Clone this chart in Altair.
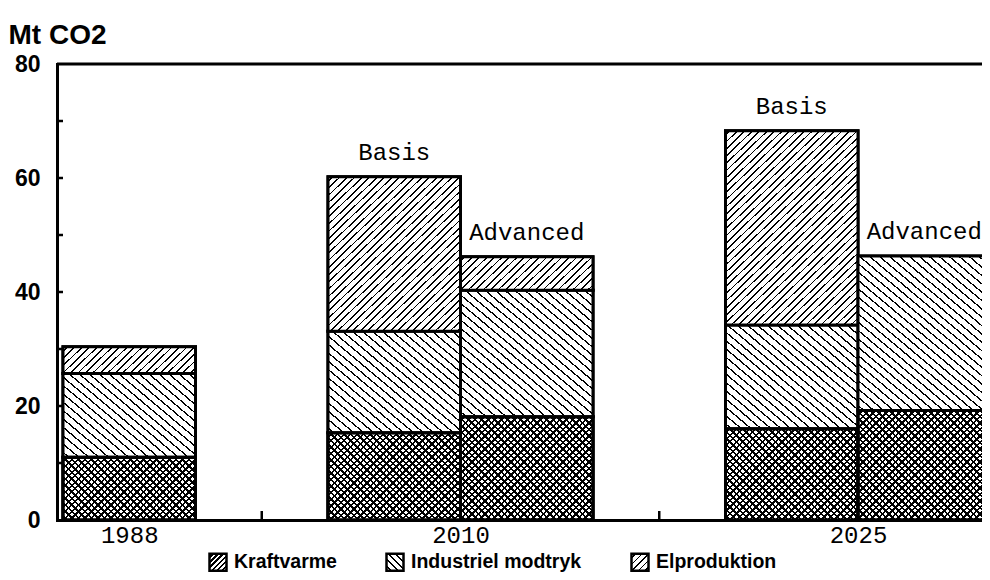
import math
import json
import altair as alt

# ---------------- data ----------------
series = ["Kraftvarme", "Industriel modtryk", "Elproduktion"]
bar_year = ["1988", "2010", "2010", "2025", "2025"]
bar_scenario = ["", "Basis", "Advanced", "Basis", "Advanced"]
kraftvarme = [11.0, 15.3, 18.1, 16.0, 19.2]
industriel = [14.7, 17.8, 22.2, 18.2, 27.1]
elproduktion = [4.7, 27.1, 5.9, 34.1, 0.0]
# order of the equal-width slots along the x axis (None = empty gap)
slot_layout = ["1988", None, "2010 Basis", "2010 Advanced", None,
               "2025 Basis", "2025 Advanced"]
y_labels = [0, 20, 40, 60, 80]
y_minor = [10, 20, 30, 40, 50, 60, 70]

# ---------------- layout ----------------
PLOT_W, PLOT_H = 925, 456
PAD = {"left": 49, "top": 56, "right": 0, "bottom": 52}
SLOT_PX = 132.5
FIRST_GAP = 6
X_LO = -FIRST_GAP / SLOT_PX
X_HI = X_LO + PLOT_W / SLOT_PX
Y_MAX = 80
PX_PER_Y = PLOT_H / Y_MAX


def hatch(W, H, theta, period, line, kind, bg="white", fg="black", phase=0.5):
    """Linear gradient with hard stops that draws diagonal stripes."""
    th = math.radians(theta)
    s, c = math.sin(th), math.cos(th)
    S = W * s + H * c
    k = S / ((W * s) ** 2 + (H * c) ** 2)
    gx, gy = k * W * s, k * H * c
    if kind == "/":
        x1, y1, x2, y2 = 0, 0, gx, gy
    else:
        x1, y1, x2, y2 = 0, 1, gx, 1 - gy
    stops = [{"offset": 0, "color": bg}]
    pos = phase * period
    while pos < S:
        a = round(pos / S, 5)
        b = round(min((pos + line) / S, 1), 5)
        stops += [{"offset": a, "color": bg}, {"offset": a, "color": fg},
                  {"offset": b, "color": fg}, {"offset": b, "color": bg}]
        pos += period
    stops.append({"offset": 1, "color": bg})
    return {"gradient": "linear", "x1": round(x1, 5), "y1": round(y1, 5),
            "x2": round(x2, 5), "y2": round(y2, 5), "stops": stops}


STYLE = {
    "Kraftvarme": dict(theta=45, period=4.6, line=1.7, kind="/"),
    "Industriel modtryk": dict(theta=40, period=6.4, line=1.3, kind="\\"),
    "Elproduktion": dict(theta=44, period=5.2, line=1.25, kind="/"),
}
CROSS = dict(theta=45, period=4.6, line=1.7, kind="\\")

records = []
values_by_series = [kraftvarme, industriel, elproduktion]
for i, year in enumerate(bar_year):
    key = year + (" " + bar_scenario[i] if bar_scenario[i] else "")
    slot = slot_layout.index(key)
    for j, name in enumerate(series):
        v = values_by_series[j][i]
        if v <= 0:
            continue
        H = v * PX_PER_Y
        g1 = hatch(SLOT_PX, H, **STYLE[name])
        g2 = hatch(SLOT_PX, H, bg="rgba(0,0,0,0)", **CROSS) if name == "Kraftvarme" else None
        records.append({"slot": slot, "series": name, "order": j, "value": v,
                        "year": year, "scenario": bar_scenario[i],
                        "g1": g1, "g2": g2})

data = alt.Data(values=records)

# legend swatch patterns (square symbols)
SW = 17
legend_grad = [
    hatch(SW, SW, theta=45, period=3.6, line=1.9, kind="/"),
    hatch(SW, SW, theta=45, period=5.0, line=1.4, kind="\\"),
    hatch(SW, SW, theta=45, period=4.6, line=1.3, kind="/"),
]
legend_range = [alt.ExprRef(expr=json.dumps(g)) for g in legend_grad]

# x axis label positions: centre of each year's group of slots
years = []
for y in bar_year:
    if y not in years:
        years.append(y)
centers = []
for y in years:
    idx = [k for k, s in enumerate(slot_layout) if s is not None and s.startswith(y)]
    centers.append(sum(k + 0.5 for k in idx) / len(idx))
label_expr = " : ".join(
    [f"abs(datum.value - {c}) < 0.01 ? '{y}'" for c, y in zip(centers, years)] + ["''"]
)
gap_ticks = [k + 0.5 for k, s in enumerate(slot_layout) if s is None]

x_scale = alt.Scale(domain=[X_LO, X_HI], nice=False, zero=False)
y_scale = alt.Scale(domain=[0, Y_MAX], nice=False, zero=True)

x_axis = alt.Axis(values=centers, labelExpr=label_expr, title=None, ticks=False,
                  tickSize=0, grid=False, labelFlush=False,
                  labelFont="Liberation Mono", labelFontSize=24, labelColor="black",
                  labelPadding=3, domainWidth=3, domainColor="black", domainCap="square")
y_axis = alt.Axis(values=y_labels, title="Mt CO2", titleAngle=0, titleX=-49, titleY=-21,
                  titleAlign="left", titleBaseline="alphabetic",
                  titleFont="Liberation Sans", titleFontSize=28, titleFontWeight="bold",
                  titleColor="black", labelFont="Liberation Sans", labelFontSize=23,
                  labelFontWeight="bold", labelColor="black", labelPadding=17,
                  ticks=False, tickSize=0, grid=False, domainWidth=3,
                  domainColor="black", domainCap="square")


def X(field):
    return alt.X(field, scale=x_scale, axis=x_axis)


def Y(field):
    return alt.Y(field, scale=y_scale, axis=y_axis)


stacked = (
    alt.Chart(data)
    .transform_stack(stack="value", groupby=["slot"],
                     sort=[alt.SortField(field="order", order="ascending")],
                     as_=["y0", "y1"])
    .transform_calculate(x_end="datum.slot + 1")
)

legend_layer = stacked.mark_bar(stroke="black", strokeWidth=3, clip=True).encode(
    x=X("slot:Q"),
    x2="x_end:Q",
    y=Y("y0:Q"),
    y2="y1:Q",
    fill=alt.Fill(
        "series:N",
        scale=alt.Scale(domain=series, range=legend_range),
        legend=alt.Legend(
            orient="none", legendX=151, legendY=488, direction="horizontal",
            title=None, symbolType="square", symbolSize=SW * SW,
            symbolStrokeColor="black", symbolStrokeWidth=2.5, symbolOpacity=1,
            labelFont="Liberation Sans", labelFontSize=19.5, labelFontWeight="bold",
            labelColor="black", labelOffset=6, labelLimit=400, columnPadding=44,
            padding=0,
        ),
    ),
)

main_layer = stacked.mark_bar(stroke="black", strokeWidth=3, clip=True).encode(
    x=X("slot:Q"),
    x2="x_end:Q",
    y=Y("y0:Q"),
    y2="y1:Q",
    fill=alt.Fill("g1:N", scale=None),
)

cross_layer = (
    stacked.transform_filter("datum.g2 != null")
    .mark_bar(stroke="black", strokeWidth=3, clip=True)
    .encode(
        x=X("slot:Q"),
        x2="x_end:Q",
        y=Y("y0:Q"),
        y2="y1:Q",
        fill=alt.Fill("g2:N", scale=None),
    )
)

text_layer = (
    alt.Chart(data)
    .transform_aggregate(total="sum(value)", groupby=["slot", "scenario"])
    .transform_filter("datum.scenario != ''")
    .transform_calculate(xc="datum.slot + 0.5")
    .mark_text(font="Liberation Mono", fontSize=24, baseline="alphabetic",
               align="center", dy=-17, color="black")
    .encode(x=X("xc:Q"), y=Y("total:Q"), text="scenario:N")
)

y_tick_layer = (
    alt.Chart(alt.Data(values=[{"t": t} for t in y_minor]))
    .mark_rule(color="black", strokeWidth=2.5)
    .encode(y=Y("t:Q"), x=alt.value(0), x2=alt.value(6))
)

x_tick_layer = (
    alt.Chart(alt.Data(values=[{"g": g} for g in gap_ticks]))
    .mark_rule(color="black", strokeWidth=2.5)
    .encode(x=X("g:Q"), y=alt.value(PLOT_H), y2=alt.value(PLOT_H - 9))
)

top_frame = (
    alt.Chart(alt.Data(values=[{"top": Y_MAX}]))
    .mark_rule(color="black", strokeWidth=3)
    .encode(y=Y("top:Q"))
)

chart = (
    alt.layer(legend_layer, main_layer, cross_layer, text_layer,
              y_tick_layer, x_tick_layer, top_frame)
    .properties(width=PLOT_W, height=PLOT_H, padding=PAD,
                autosize=alt.AutoSizeParams(type="none"), background="white")
    .configure_view(stroke=None)
)

chart.save("out.html", embed_options={"renderer": "svg", "actions": False})
